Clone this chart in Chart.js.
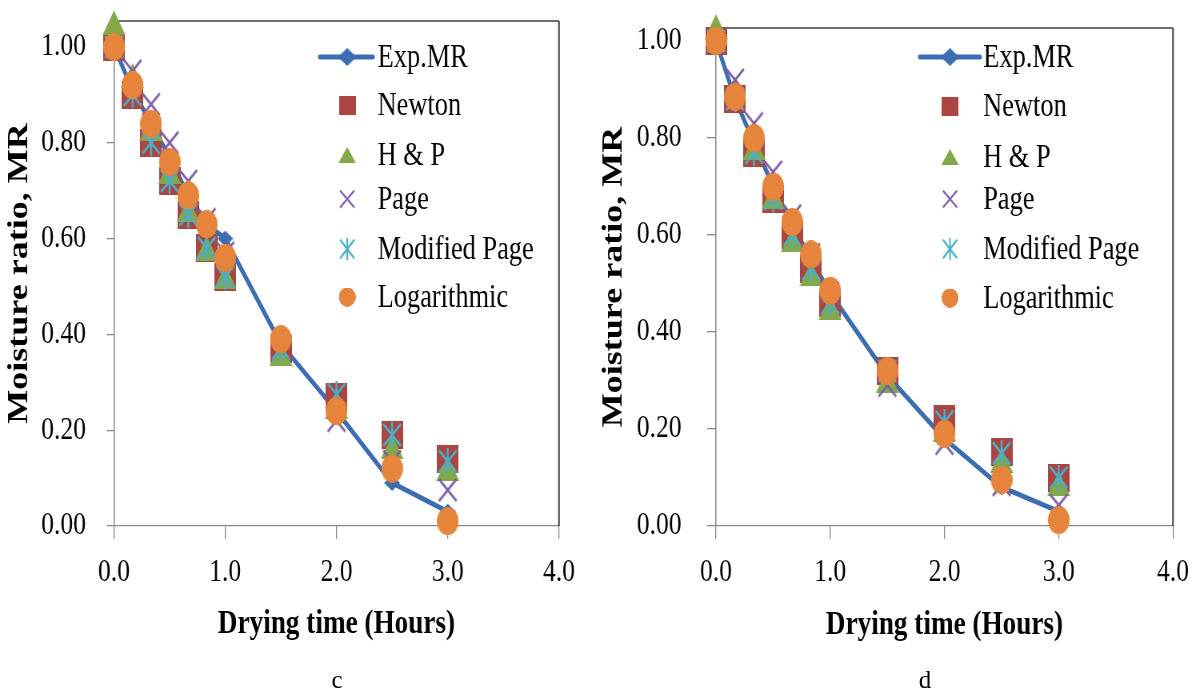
<!DOCTYPE html>
<html><head><meta charset="utf-8">
<script src="https://cdn.jsdelivr.net/npm/chart.js@4/dist/chart.umd.min.js"></script>
<style>
html,body{margin:0;padding:0;background:#fff;width:1200px;height:697px;overflow:hidden;position:relative;}
.wrap{position:absolute;top:0;width:750px;height:697px;transform:scaleX(0.8);transform-origin:0 0;}
.wrap canvas{display:block;}
.lab{position:absolute;top:666px;font-family:"Liberation Serif","Times New Roman",serif;font-size:25px;color:#000;width:40px;text-align:center;}
</style></head><body>
<div class="wrap" style="left:0"><canvas id="cc" width="750" height="697"></canvas></div>
<div class="wrap" style="left:600px"><canvas id="cd" width="750" height="697"></canvas></div>
<div class="lab" style="left:317px">c</div>
<div class="lab" style="left:905px">d</div>
<script>
// ---------- data ----------
const times = [0, 0.167, 0.333, 0.5, 0.667, 0.833, 1.0, 1.5, 2.0, 2.5, 3.0];
const seriesNames = ['Exp.MR', 'Newton', 'H & P', 'Page', 'Modified Page', 'Logarithmic'];
const xTicks = [0, 1, 2, 3, 4];
const yTicks = [0, 0.2, 0.4, 0.6, 0.8, 1.0];
const xTitle = 'Drying time (Hours)';
const yTitle = 'Moisture ratio, MR';

// panel c
const expC     = [1.00, 0.91, 0.84, 0.77, 0.69, 0.63, 0.60, 0.38, 0.24, 0.09, 0.03];
const newtonC  = [1.00, 0.90, 0.80, 0.72, 0.65, 0.58, 0.52, 0.37, 0.27, 0.19, 0.14];
const hpC      = [1.05, 0.94, 0.83, 0.74, 0.66, 0.58, 0.52, 0.36, 0.25, 0.165, 0.12];
const pageC    = [1.00, 0.95, 0.88, 0.80, 0.72, 0.64, 0.57, 0.37, 0.22, 0.135, 0.075];
const modPageC = [1.00, 0.90, 0.80, 0.72, 0.65, 0.58, 0.52, 0.37, 0.275, 0.19, 0.135];
const logC     = [1.00, 0.92, 0.84, 0.76, 0.69, 0.63, 0.56, 0.39, 0.24, 0.12, 0.01];
const yMaxC = 1.054;

// panel d
const expD     = [1.00, 0.88, 0.79, 0.70, 0.62, 0.55, 0.48, 0.31, 0.18, 0.08, 0.03];
const newtonD  = [1.00, 0.88, 0.77, 0.675, 0.60, 0.53, 0.46, 0.32, 0.22, 0.152, 0.10];
const hpD      = [1.03, 0.90, 0.78, 0.68, 0.59, 0.52, 0.45, 0.30, 0.20, 0.135, 0.087];
const pageD    = [1.00, 0.92, 0.83, 0.73, 0.64, 0.56, 0.48, 0.29, 0.17, 0.085, 0.043];
const modPageD = [1.00, 0.88, 0.77, 0.675, 0.60, 0.53, 0.46, 0.32, 0.215, 0.15, 0.10];
const logD     = [1.00, 0.885, 0.80, 0.70, 0.627, 0.56, 0.485, 0.32, 0.19, 0.095, 0.012];
const yMaxD = 1.027;

// ---------- styles ----------
const COL = {exp:'#3C6DB1', newton:'#AA4541', hp:'#83A84A', page:'#7D5FA5', mod:'#4AAFC8', log:'#E6843B'};
const SERIF = '"Liberation Serif","Times New Roman",serif';

function mk(w, h, draw){ const c=document.createElement('canvas'); c.width=w; c.height=h; draw(c.getContext('2d'), w, h); return c; }
const markers = {
  diamond: mk(20,16,(x,w,h)=>{x.fillStyle=COL.exp;x.beginPath();x.moveTo(w/2,0);x.lineTo(w,h/2);x.lineTo(w/2,h);x.lineTo(0,h/2);x.closePath();x.fill();}),
  square: mk(27,28,(x,w,h)=>{x.fillStyle=COL.newton;x.fillRect(0,0,w,h);}),
  triangle: mk(29,25,(x,w,h)=>{x.fillStyle=COL.hp;x.beginPath();x.moveTo(w/2,0);x.lineTo(w,h);x.lineTo(0,h);x.closePath();x.fill();}),
  cross: mk(26,26,(x,w,h)=>{x.strokeStyle=COL.page;x.lineWidth=2.6;x.beginPath();x.moveTo(2,2);x.lineTo(w-2,h-2);x.moveTo(w-2,2);x.lineTo(2,h-2);x.stroke();}),
  star: mk(26,26,(x,w,h)=>{x.strokeStyle=COL.mod;x.lineWidth=2.6;x.beginPath();x.moveTo(2,2);x.lineTo(w-2,h-2);x.moveTo(w-2,2);x.lineTo(2,h-2);x.moveTo(w/2,0);x.lineTo(w/2,h);x.stroke();}),
  circle: mk(27,28,(x,w,h)=>{x.fillStyle=COL.log;x.beginPath();x.ellipse(w/2,h/2,w/2,h/2,0,0,Math.PI*2);x.fill();})
};
const legendSizes = [[23,18],[21,19],[22,16],[21,20],[21,22],[21,19]];
const markerList = [markers.diamond, markers.square, markers.triangle, markers.cross, markers.star, markers.circle];

function pts(vals){ return times.map((t,i)=>({x:t, y:vals[i]})); }

const frame = {
  id:'frame',
  beforeDatasetsDraw(chart){
    const a = chart.chartArea, ctx = chart.ctx;
    ctx.save(); ctx.strokeStyle='#404040';
    ctx.lineWidth=1.5; ctx.beginPath(); ctx.moveTo(a.left, a.top); ctx.lineTo(a.right, a.top); ctx.stroke();
    ctx.lineWidth=2; ctx.beginPath(); ctx.moveTo(a.right, a.top); ctx.lineTo(a.right, a.bottom); ctx.stroke();
    ctx.restore();
  }
};

function makeLegend(g){
  return {
    id:'customLegend',
    afterDraw(chart){
      const ctx = chart.ctx;
      ctx.save();
      ctx.font = '33px ' + SERIF; ctx.fillStyle='#000'; ctx.textBaseline='middle'; ctx.textAlign='left';
      seriesNames.forEach((name,i)=>{
        const y = g.rows[i];
        if (i===0){ ctx.strokeStyle=COL.exp; ctx.lineWidth=5; ctx.lineCap='round'; ctx.beginPath(); ctx.moveTo(g.lineX0,y); ctx.lineTo(g.lineX1,y); ctx.stroke(); }
        const [w,h] = legendSizes[i];
        ctx.drawImage(markerList[i], g.mx - w/2, y - h/2, w, h);
        ctx.fillText(name, g.tx, y + 1);
      });
      ctx.restore();
    }
  };
}

function makePanel(id, d, g){
  const ds = [
    {label:seriesNames[0], data:pts(d.exp), showLine:true, borderColor:COL.exp, borderWidth:5, pointStyle:markers.diamond, pointRadius:8, order:6},
    {label:seriesNames[1], data:pts(d.newton), showLine:false, pointStyle:markers.square, pointRadius:12, order:5},
    {label:seriesNames[2], data:pts(d.hp), showLine:false, pointStyle:markers.triangle, pointRadius:12, order:4},
    {label:seriesNames[3], data:pts(d.page), showLine:false, pointStyle:markers.cross, pointRadius:12, order:3},
    {label:seriesNames[4], data:pts(d.mod), showLine:false, pointStyle:markers.star, pointRadius:12, order:2},
    {label:seriesNames[5], data:pts(d.log), showLine:false, pointStyle:markers.circle, pointRadius:12, order:1}
  ].map(o=>Object.assign({clip:false, tension:0, backgroundColor:'transparent'}, o));
  new Chart(document.getElementById(id), {
    type:'scatter',
    data:{datasets:ds},
    options:{
      responsive:false, animation:false, devicePixelRatio:1,
      layout:{padding:{left:0, top:g.top, right:750-g.right, bottom:0}},
      plugins:{legend:{display:false}, tooltip:{enabled:false}},
      events:[],
      scales:{
        x:{
          type:'linear', min:0, max:4,
          afterBuildTicks:s=>{s.ticks = xTicks.map(v=>({value:v}));},
          afterFit:s=>{s.height = 697 - g.bottom; s.paddingLeft = 0; s.paddingRight = 0; s.paddingTop = 0; s.paddingBottom = 0;},
          grid:{display:true, drawOnChartArea:false, drawTicks:true, tickLength:13, color:'#888', lineWidth:1.25},
          border:{display:true, color:'#888', width:1.3},
          ticks:{autoSkip:false, maxRotation:0, padding:14, color:'#000', font:{family:SERIF, size:32}, callback:v=>Number(v).toFixed(1)},
          title:{display:true, text:xTitle, color:'#000', font:{family:SERIF, size:34, weight:'bold', lineHeight:1}, padding:{top:0,bottom:g.xTitlePad}}
        },
        y:{
          type:'linear', min:0, max:d.yMax,
          afterBuildTicks:s=>{s.ticks = yTicks.map(v=>({value:v}));},
          afterFit:s=>{s.width = g.left; s.paddingTop = 0; s.paddingBottom = 0; s.paddingLeft = 0; s.paddingRight = 0;},
          grid:{display:true, drawOnChartArea:false, drawTicks:true, tickLength:g.yTick, color:'#888', lineWidth:1.3},
          border:{display:true, color:'#888', width:1.5},
          ticks:{autoSkip:false, padding:g.yPad, color:'#000', font:{family:SERIF, size:32}, callback:v=>Number(v).toFixed(2)},
          title:{display:true, text:yTitle, color:'#000', font:{family:SERIF, size:36, weight:'bold', lineHeight:1}, padding:{top:g.yTitlePad,bottom:0}}
        }
      }
    },
    plugins:[frame, makeLegend(g)]
  });
}

makePanel('cc',
  {exp:expC, newton:newtonC, hp:hpC, page:pageC, mod:modPageC, log:logC, yMax:yMaxC},
  {left:142.5, right:698.75, top:21, bottom:526, yTick:9, yPad:26, xTitlePad:56, yTitlePad:7,
   rows:[57,105,155,199,249,297], lineX0:400, lineX1:466, mx:434, tx:472});
makePanel('cd',
  {exp:expD, newton:newtonD, hp:hpD, page:pageD, mod:modPageD, log:logD, yMax:yMaxD},
  {left:145, right:716.25, top:28, bottom:526, yTick:11, yPad:32, xTitlePad:55, yTitlePad:0,
   rows:[57,106,157,199,249,298], lineX0:400, lineX1:475, mx:437.5, tx:479});
</script>
</body></html>
